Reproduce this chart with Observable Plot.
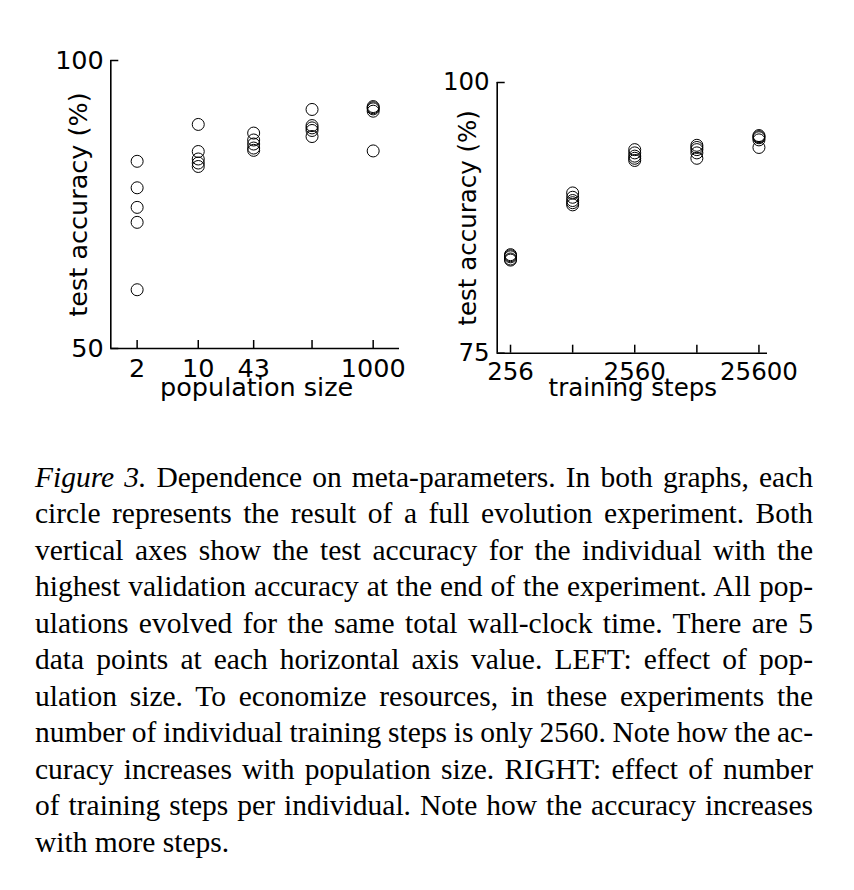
<!DOCTYPE html>
<html><head><meta charset="utf-8">
<script src="https://cdn.jsdelivr.net/npm/d3@7"></script>
<script src="https://cdn.jsdelivr.net/npm/@observablehq/plot@0.6"></script>
<style>
body{margin:0;background:#fff;}
#wrap{position:relative;width:854px;height:890px;overflow:hidden;background:#fff;}
#left{position:absolute;left:0;top:0;}
#right{position:absolute;left:430px;top:0;}
#caption{position:absolute;left:35px;top:458.8px;width:778px;font-family:"Liberation Serif","Times New Roman",serif;font-size:29.5px;line-height:36.5px;color:#000;}
.ln{white-space:nowrap;}
</style></head><body>
<div id="wrap"><div id="left"></div><div id="right"></div><div id="caption"></div></div>
<script>
// ---- LEFT: population size ----
const popSizes = [2, 10, 43, 200, 1000];
const popTickLabels = ["2", "10", "43", "", "1000"];
const popAccuracy = [
  [82.5, 77.9, 74.5, 71.9, 60.2],
  [88.9, 84.2, 82.9, 82.2, 81.6],
  [87.4, 86.2, 85.5, 84.8, 84.4],
  [91.5, 88.7, 88.3, 87.85, 86.8],
  [92.0, 91.8, 91.6, 91.2, 84.3]
];
const popYTicks = [50, 100];

// ---- RIGHT: training steps ----
const stepValues = [256, 810, 2560, 8100, 25600];
const stepTickLabels = ["256", "", "2560", "", "25600"];
const stepAccuracy = [
  [84.1, 84.0, 83.9, 83.7, 83.6],
  [89.8, 89.4, 89.1, 88.9, 88.7],
  [93.8, 93.5, 93.2, 93.0, 92.8],
  [94.2, 94.0, 93.8, 93.5, 93.0],
  [95.1, 95.0, 94.9, 94.7, 94.0]
];
const stepYTicks = [75, 100];

const captionLines = [
  "Figure 3. Dependence on meta-parameters. In both graphs, each",
  "circle represents the result of a full evolution experiment. Both",
  "vertical axes show the test accuracy for the individual with the",
  "highest validation accuracy at the end of the experiment. All pop-",
  "ulations evolved for the same total wall-clock time. There are 5",
  "data points at each horizontal axis value. LEFT: effect of pop-",
  "ulation size. To economize resources, in these experiments the",
  "number of individual training steps is only 2560. Note how the ac-",
  "curacy increases with population size. RIGHT: effect of number",
  "of training steps per individual. Note how the accuracy increases",
  "with more steps."
];

const popRows = popSizes.flatMap((s, i) => popAccuracy[i].map(a => ({x: s, y: a})));
const stepRows = stepValues.flatMap((s, i) => stepAccuracy[i].map(a => ({x: s, y: a})));
const popTickRows = popSizes.map((s, i) => ({x: s, label: popTickLabels[i]})).filter(d => d.label);
const stepTickRows = stepValues.map((s, i) => ({x: s, label: stepTickLabels[i]})).filter(d => d.label);

function panel({rows, xTicks, tickRows, yTicks, xDomain, yDomain, width, height, margins, fs, xLabel, yLabel, xTickDy, xLabelDy, xLabelDx, yLabelDx, ytp}) {
  return Plot.plot({
    width, height, ...margins,
    style: {fontFamily: "DejaVu Sans", background: "white", color: "black", overflow: "visible"},
    x: {type: "log", domain: xDomain},
    y: {domain: yDomain},
    marks: [
      Plot.ruleX([xDomain[0]], {stroke: "black", strokeWidth: 1.6}),
      Plot.ruleY([yDomain[0]], {stroke: "black", strokeWidth: 1.6}),
      Plot.axisX(xTicks, {anchor: "bottom", tickSize: -8, strokeWidth: 1.5, tickFormat: () => "", label: null}),
      Plot.text(tickRows, {x: "x", text: "label", frameAnchor: "bottom", textAnchor: "middle", lineAnchor: "middle", dy: xTickDy, fontSize: fs}),
      Plot.axisY(yTicks, {anchor: "left", tickSize: -8, tickPadding: ytp, strokeWidth: 1.5, tickFormat: d => String(d), fontSize: fs, label: null}),
      Plot.text([xLabel], {frameAnchor: "bottom", textAnchor: "middle", lineAnchor: "middle", dy: xLabelDy, dx: xLabelDx, fontSize: fs}),
      Plot.text([yLabel], {frameAnchor: "left", textAnchor: "middle", lineAnchor: "middle", dx: yLabelDx, rotate: -90, fontSize: fs}),
      Plot.dot(rows, {x: "x", y: "y", r: 6, stroke: "black", fill: "none", strokeWidth: 1})
    ]
  });
}

document.getElementById("left").appendChild(panel({
  rows: popRows, xTicks: popSizes, tickRows: popTickRows, yTicks: popYTicks,
  xDomain: [1, 2000], yDomain: [50, 100], width: 430, height: 430,
  margins: {marginLeft: 110.3, marginRight: 31, marginTop: 60, marginBottom: 82},
  fs: 25.5, xLabel: "population size", yLabel: "test accuracy (%)",
  xTickDy: 20, xLabelDy: 39, xLabelDx: 1.5, yLabelDx: -32.3, ytp: 15
}));

document.getElementById("right").appendChild(panel({
  rows: stepRows, xTicks: stepValues, tickRows: stepTickRows, yTicks: stepYTicks,
  xDomain: [200, 30000], yDomain: [75, 100], width: 424, height: 430,
  margins: {marginLeft: 66.7, marginRight: 87, marginTop: 82, marginBottom: 77.3},
  fs: 24.5, xLabel: "training steps", yLabel: "test accuracy (%)",
  xTickDy: 19, xLabelDy: 35, xLabelDx: 0.5, yLabelDx: -29, ytp: 15.5
}));

const cap = document.getElementById("caption");
captionLines.forEach((line, i) => {
  const div = document.createElement("div");
  div.className = "ln";
  const span = document.createElement("span");
  if (i === 0) {
    const em = document.createElement("i");
    em.textContent = "Figure 3.";
    span.appendChild(em);
    span.appendChild(document.createTextNode(line.slice(9)));
  } else {
    span.textContent = line;
  }
  div.appendChild(span);
  cap.appendChild(div);
  if (i < captionLines.length - 1) {
    const w = span.getBoundingClientRect().width;
    const spaces = (line.match(/ /g) || []).length;
    span.style.wordSpacing = ((778 - w) / spaces) + "px";
  }
});
</script>
</body></html>
